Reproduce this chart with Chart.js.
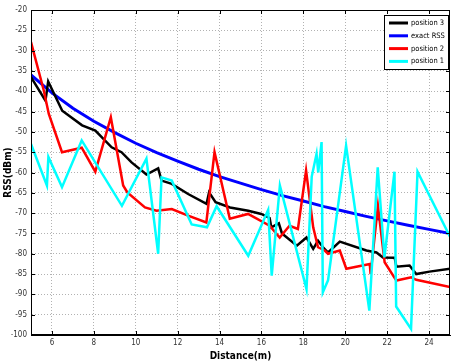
<!DOCTYPE html>
<html>
<head>
<meta charset="utf-8">
<script src="https://cdn.jsdelivr.net/npm/chart.js@4.4.0/dist/chart.umd.min.js"></script>
<style>
    html, body { margin: 0; padding: 0; background: #fff; }
</style>
</head>
<body>
<canvas id="graph" width="455" height="364"></canvas>
<script>
const X_TICKS = [6, 8, 10, 12, 14, 16, 18, 20, 22, 24];
const Y_TICKS = [-100, -95, -90, -85, -80, -75, -70, -65, -60, -55, -50, -45, -40, -35, -30, -25, -20];

// exact RSS
const exactX = [5, 6, 7, 8, 9, 10, 11, 12, 13, 14, 15, 16, 17, 18, 19, 20, 21, 22, 23, 24, 25];
const exactRss = [-36.0, -40.4, -44.2, -47.4, -50.2, -52.8, -55.1, -57.2, -59.2, -61.0, -62.6, -64.2, -65.7, -67.0, -68.4, -69.6, -70.8, -71.9, -73.0, -74.0, -75.0];

// position 3
const pos3X = [5.0, 5.69, 5.82, 6.49, 7.44, 8.07, 8.85, 9.32, 9.8, 10.51, 11.07, 11.23, 11.72, 12.5, 13.38, 13.5, 13.81, 14.5, 15.37, 15.99, 16.39, 16.47, 16.83, 16.98, 17.69, 18.15, 18.47, 18.7, 18.94, 19.18, 19.74, 21.01, 21.49, 21.8, 22.36, 22.44, 23.07, 23.39, 24.02, 25.0];
const pos3Rss = [-36.5, -42.3, -37.6, -44.8, -48.4, -49.7, -53.8, -55.0, -57.5, -60.5, -59.0, -62.0, -62.8, -65.3, -67.7, -64.9, -67.3, -68.6, -69.4, -70.2, -71.2, -73.5, -72.5, -75.0, -78.0, -76.0, -78.8, -76.8, -78.4, -79.7, -77.0, -79.2, -79.7, -80.9, -81.0, -83.2, -82.9, -85.0, -84.4, -83.7];

// position 2
const pos2X = [5.0, 5.61, 5.85, 6.48, 7.42, 8.07, 8.81, 9.4, 9.6, 10.44, 10.99, 11.72, 12.5, 13.37, 13.76, 14.49, 15.36, 16.39, 16.87, 17.34, 17.74, 18.13, 18.47, 18.7, 19.02, 19.18, 19.74, 20.05, 21.17, 21.21, 21.56, 21.88, 22.44, 23.15, 23.39, 25.0];
const pos2Rss = [-27.9, -39.8, -45.6, -55.0, -53.9, -59.8, -46.4, -63.2, -64.9, -68.6, -69.4, -69.0, -70.6, -72.3, -55.0, -71.4, -70.2, -73.1, -76.0, -73.1, -73.9, -59.5, -73.5, -78.4, -79.2, -80.0, -79.2, -83.7, -82.5, -85.0, -68.2, -82.1, -86.6, -85.8, -86.4, -88.2];

// position 1
const pos1X = [5.0, 5.76, 5.83, 6.48, 7.42, 9.34, 10.51, 11.07, 11.23, 11.72, 12.67, 13.4, 13.86, 15.37, 16.32, 16.49, 16.88, 18.15, 18.4, 18.63, 18.71, 18.87, 18.93, 19.18, 20.04, 21.15, 21.55, 21.87, 22.35, 22.43, 23.14, 23.45, 25.0];
const pos1Rss = [-53.0, -63.2, -56.2, -63.6, -52.1, -68.2, -56.6, -80.0, -61.2, -62.0, -72.8, -73.5, -68.3, -80.5, -69.2, -85.4, -63.2, -88.7, -61.0, -55.4, -60.0, -52.5, -89.5, -86.5, -53.4, -94.0, -58.7, -80.9, -59.8, -93.0, -98.5, -59.8, -75.8];

const NARROW = "'Liberation Sans Narrow', 'DejaVu Sans Condensed', 'Liberation Sans', sans-serif";

const toPoints = (xs, ys) => xs.map((x, i) => ({ x: x, y: ys[i] }));

const line = (label, xs, ys, color, order, width) => ({
    label: label,
    data: toPoints(xs, ys),
    borderColor: color,
    backgroundColor: color,
    borderWidth: width,
    pointRadius: 0,
    tension: 0,
    fill: false,
    order: order
});

// box, inward ticks and the legend, MATLAB style
const framePlugin = {
    id: 'frame',
    afterDatasetsDraw(chart) {
        const { ctx, chartArea: a, scales } = chart;
        ctx.save();
        ctx.strokeStyle = '#000';
        ctx.lineWidth = 1;
        ctx.strokeRect(a.left + 0.5, a.top + 0.5, a.right - a.left - 1, a.bottom - a.top - 1);

        ctx.beginPath();
        X_TICKS.forEach((v) => {
            const px = Math.round(scales.x.getPixelForValue(v)) + 0.5;
            ctx.moveTo(px, a.bottom); ctx.lineTo(px, a.bottom - 4);
            ctx.moveTo(px, a.top); ctx.lineTo(px, a.top + 4);
        });
        Y_TICKS.forEach((v) => {
            const py = Math.round(scales.y.getPixelForValue(v)) + 0.5;
            ctx.moveTo(a.left, py); ctx.lineTo(a.left + 4, py);
            ctx.moveTo(a.right, py); ctx.lineTo(a.right - 4, py);
        });
        ctx.stroke();

        // legend
        const bx = a.right - 66;
        const by = a.top + 5;
        ctx.fillStyle = '#fff';
        ctx.fillRect(bx, by, 64, 54);
        ctx.strokeRect(bx + 0.5, by + 0.5, 64, 54);
        ctx.font = '7.5px ' + NARROW;
        ctx.textBaseline = 'middle';
        chart.data.datasets.forEach((ds, i) => {
            const y = by + 8 + i * 12.8;
            ctx.strokeStyle = ds.borderColor;
            ctx.lineWidth = 3;
            ctx.beginPath();
            ctx.moveTo(bx + 5, y); ctx.lineTo(bx + 24, y);
            ctx.stroke();
            ctx.fillStyle = '#000';
            ctx.fillText(ds.label, bx + 27, y);
        });
        ctx.restore();
    }
};

const config = {
    type: 'line',
    data: {
        datasets: [
            line('position 3', pos3X, pos3Rss, '#000000', 2, 2.5),
            line('exact RSS', exactX, exactRss, '#0000ff', 3, 3),
            line('position 2', pos2X, pos2Rss, '#ff0000', 1, 2.5),
            line('position 1', pos1X, pos1Rss, '#00ffff', 0, 2.5)
        ]
    },
    options: {
        responsive: false,
        animation: false,
        layout: { padding: { top: 10, right: 5, left: 0, bottom: 0 } },
        plugins: {
            legend: { display: false },
            tooltip: { enabled: false }
        },
        scales: {
            x: {
                type: 'linear',
                min: 5,
                max: 25,
                afterBuildTicks: (s) => { s.ticks = X_TICKS.map((v) => ({ value: v })); },
                afterFit: (s) => { s.height = 29; },
                grid: { color: 'rgba(0,0,0,0.3)', lineWidth: 1, drawTicks: false },
                border: { display: true, color: '#000', dash: [1, 2] },
                ticks: { color: '#333', padding: 3, maxRotation: 0, font: { size: 8, family: NARROW } },
                title: {
                    display: true,
                    text: 'Distance(m)',
                    color: '#000',
                    padding: { top: 0, bottom: 2 },
                    font: { size: 10, weight: 'bold', family: NARROW }
                }
            },
            y: {
                min: -100,
                max: -20,
                afterBuildTicks: (s) => { s.ticks = Y_TICKS.map((v) => ({ value: v })); },
                afterFit: (s) => { s.width = 31; },
                grid: { color: 'rgba(0,0,0,0.3)', lineWidth: 1, drawTicks: false },
                border: { display: true, color: '#000', dash: [1, 2] },
                ticks: { color: '#333', padding: 4, font: { size: 8, family: NARROW } },
                title: {
                    display: true,
                    text: 'RSS(dBm)',
                    color: '#000',
                    padding: { top: 2, bottom: 0 },
                    font: { size: 10, weight: 'bold', family: NARROW }
                }
            }
        }
    },
    plugins: [framePlugin]
};

const graph = new Chart(document.querySelector('#graph'), config);
</script>
</body>
</html>
